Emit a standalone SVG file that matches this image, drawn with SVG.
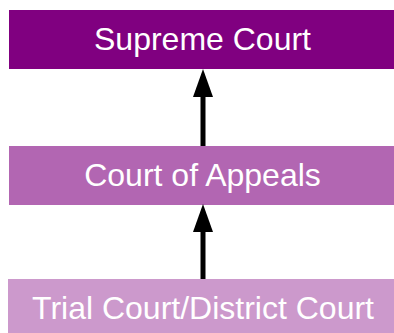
<svg xmlns="http://www.w3.org/2000/svg" width="394" height="333" viewBox="0 0 394 333">
<defs>
<style>
.lbl{font-family:"Liberation Sans",Arial,sans-serif;font-size:32px;fill:#ffffff;text-anchor:middle}
.conn{stroke:#000;stroke-width:5;fill:none}
</style>
<marker id="ah" markerUnits="userSpaceOnUse" markerWidth="28" markerHeight="20" refX="0" refY="10" orient="auto" viewBox="0 0 28 20">
<path d="M0,0 L28,10 L0,20 Z" fill="#000"/>
</marker>
</defs>
<rect width="394" height="333" fill="#fff"/>
<g id="supreme">
<rect x="9" y="10" width="385" height="59" fill="#800080"/>
<text class="lbl" x="202.5" y="50">Supreme Court</text>
</g>
<g id="appeals">
<rect x="9" y="146" width="385" height="59" fill="#B266B2"/>
<text class="lbl" x="202.5" y="186">Court of Appeals</text>
</g>
<g id="trial">
<rect x="8" y="279" width="386" height="54" fill="#CC99CC"/>
<text class="lbl" x="203" y="319">Trial Court/District Court</text>
</g>
<g id="connectors">
<line class="conn" x1="203" y1="146" x2="203" y2="97" marker-end="url(#ah)"/>
<line class="conn" x1="203" y1="279" x2="203" y2="232" marker-end="url(#ah)"/>
</g>
</svg>
